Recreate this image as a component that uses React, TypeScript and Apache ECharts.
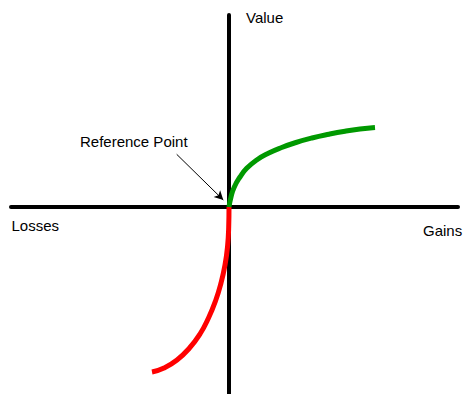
import React, { useEffect, useRef } from "react";
import * as echarts from "echarts";

// Value function (prospect theory), coordinates relative to the reference point
const gainsX = [0, 2, 5.3, 11, 17.7, 27.7, 39.3, 52.7, 67, 83, 100, 116, 131, 146];
const gainsY = [0, 10, 20, 30, 38.7, 47, 53.7, 59.5, 64.5, 69, 72.8, 75.8, 78, 79.5];
const lossesX = [0, -0.3, -1.5, -4, -8, -13.5, -20.5, -29, -39.5, -52, -65, -77];
const lossesY = [0, -20, -40, -58, -76, -94, -111, -127, -141, -153, -161, -165];
const arrowFrom = [-52.3, 52.7];
const arrowTo = [-5.7, 7];
const labels = {
  value: "Value",
  losses: "Losses",
  gains: "Gains",
  ref: "Reference Point",
};

const toPairs = (xs: number[], ys: number[]) => xs.map((x, i) => [x, ys[i]]);

export default function App() {
  const ref = useRef<HTMLDivElement>(null);
  useEffect(() => {
    if (!ref.current) return;
    const chart = echarts.init(ref.current, null, { renderer: "svg" });
    const font = "Liberation Sans, Arial, sans-serif";
    const axisCommon = {
      type: "value" as const,
      axisLine: { show: true, onZero: true, lineStyle: { color: "#000", width: 4 } },
      axisTick: { show: false },
      axisLabel: { show: false },
      splitLine: { show: false },
    };
    chart.setOption({
      animation: false,
      grid: { left: 11, right: 5, top: 15, bottom: 0, containLabel: false },
      xAxis: { ...axisCommon, min: -218, max: 229 },
      yAxis: { ...axisCommon, min: -187, max: 192 },
      series: [
        {
          type: "line",
          data: toPairs(lossesX, lossesY),
          showSymbol: false,
          symbol: "none",
          smooth: 0.5,
          lineStyle: { color: "#ff0000", width: 5 },
          z: 3,
        },
        {
          type: "line",
          data: toPairs(gainsX, gainsY),
          showSymbol: false,
          symbol: "none",
          smooth: 0.5,
          lineStyle: { color: "#009900", width: 5 },
          z: 4,
          markLine: {
            silent: true,
            symbol: ["none", "arrow"],
            symbolSize: [7, 9],
            label: { show: false },
            lineStyle: { color: "#000", width: 1, type: "solid" },
            data: [[{ coord: arrowFrom }, { coord: arrowTo }]],
          },
        },
      ],
      graphic: [
        {
          type: "text",
          x: 246,
          y: 17.7,
          style: { text: labels.value, font: `15px ${font}`, fill: "#000", textVerticalAlign: "middle" },
        },
        {
          type: "text",
          x: 11.5,
          y: 225.7,
          style: { text: labels.losses, font: `15px ${font}`, fill: "#000", textVerticalAlign: "middle" },
        },
        {
          type: "text",
          x: 423,
          y: 230.7,
          style: { text: labels.gains, font: `15px ${font}`, fill: "#000", textVerticalAlign: "middle" },
        },
        {
          type: "text",
          x: 80,
          y: 141.4,
          style: { text: labels.ref, font: `15px ${font}`, fill: "#000", textVerticalAlign: "middle" },
        },
      ],
    });
    return () => chart.dispose();
  }, []);
  return (
    <div
      ref={ref}
      style={{ position: "fixed", left: 0, top: 0, width: 463, height: 394, background: "#fff" }}
    />
  );
}
